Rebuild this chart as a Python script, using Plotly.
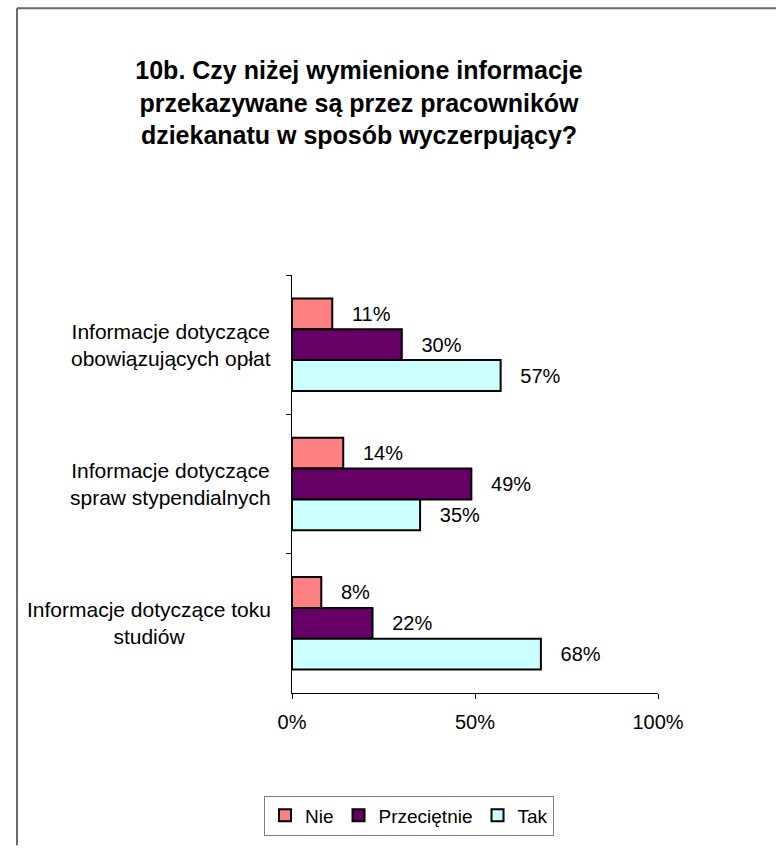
import plotly.graph_objects as go

# Survey question 10b - share of answers per information type
categories = [
    "Informacje dotyczące<br>obowiązujących opłat",
    "Informacje dotyczące<br>spraw stypendialnych",
    "Informacje dotyczące toku<br>studiów",
]
series_names = ["Nie", "Przeciętnie", "Tak"]
nie = [11, 14, 8]
przecietnie = [30, 49, 22]
tak = [57, 35, 68]

x_ticks = [0, 50, 100]
x_tick_labels = ["0%", "50%", "100%"]

colors = {"Nie": "#FF8080", "Przeciętnie": "#660066", "Tak": "#CCFFFF"}
FONT = "Liberation Sans, Arial, sans-serif"

W, H = 776, 848
L, R, T, B = 292, 118, 275, 153
PW, PH = W - L - R, H - T - B


def px_x(px):
    return (px - L) / PW


def px_y(py):
    return (PH - (py - T)) / PH


fig = go.Figure()
for name, vals in zip(series_names, [nie, przecietnie, tak]):
    fig.add_trace(go.Bar(
        name=name,
        y=categories,
        x=vals,
        orientation="h",
        marker=dict(color=colors[name], line=dict(color="black", width=2)),
        text=[f"\u00a0\u00a0\u00a0{v}%" for v in vals],
        textposition="outside",
        textfont=dict(family=FONT, size=20, color="black"),
        constraintext="none",
        cliponaxis=False,
        hoverinfo="skip",
    ))

# category labels, centred lines like the original
for cat in categories:
    fig.add_annotation(
        x=px_x(273), xref="paper", xanchor="right",
        y=cat, yref="y", yanchor="middle",
        text=cat, showarrow=False, align="center",
        font=dict(family=FONT, size=21, color="black"),
    )

# outer chart border: only left and top edges are inside the picture
border = dict(color="#6b6b6b", width=2)
fig.add_shape(type="line", xref="paper", yref="paper",
              x0=px_x(17), x1=px_x(17), y0=px_y(848), y1=px_y(7), line=border)
fig.add_shape(type="line", xref="paper", yref="paper",
              x0=px_x(17), x1=px_x(776), y0=px_y(7), y1=px_y(7), line=border)

fig.update_layout(
    width=W, height=H,
    margin=dict(l=L, r=R, t=T, b=B),
    paper_bgcolor="white", plot_bgcolor="white",
    barmode="group", bargap=0.336, bargroupgap=0,
    font=dict(family=FONT, size=20, color="black"),
    title=dict(
        text="<b>10b. Czy niżej wymienione informacje<br>przekazywane są przez pracowników<br>dziekanatu w sposób wyczerpujący?</b>",
        x=359 / W, xref="container", xanchor="center",
        y=1 - 79 / H, yref="container", yanchor="top",
        font=dict(family=FONT, size=25, color="black"),
    ),
    xaxis=dict(
        range=[0, 100], tickvals=x_ticks, ticktext=x_tick_labels,
        showgrid=False, zeroline=False,
        showline=True, linecolor="black", linewidth=1,
        ticks="outside", ticklen=5, tickcolor="black",
        ticklabelstandoff=6,
        tickfont=dict(family=FONT, size=20, color="black"),
    ),
    yaxis=dict(
        autorange="reversed", showticklabels=False,
        showgrid=False, zeroline=False,
        showline=True, linecolor="black", linewidth=1,
        ticks="outside", ticklen=5, tickcolor="black", tickson="boundaries",
    ),
    legend=dict(
        orientation="h", x=px_x(409), xanchor="center",
        y=px_y(798), yanchor="top",
        bordercolor="#808080", borderwidth=1,
        font=dict(family=FONT, size=19, color="black"),
        itemwidth=30, traceorder="normal",
    ),
    showlegend=True,
)

# drop the default page margin so the figure fills the window exactly
fig.write_html(
    "out.html",
    config={"displayModeBar": False},
    post_script="document.body.style.margin='0';document.body.style.overflow='hidden';",
)
